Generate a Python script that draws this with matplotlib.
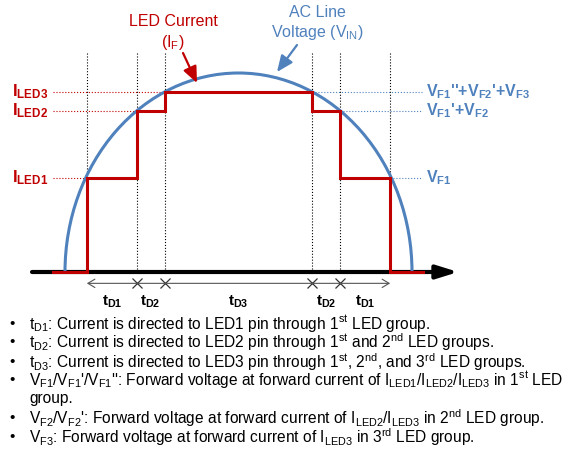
import numpy as np
import matplotlib
matplotlib.use("Agg")
import matplotlib.pyplot as plt
from matplotlib.patches import Arc

plt.rcParams['font.family'] = ['Liberation Sans', 'DejaVu Sans']
plt.rcParams['mathtext.fontset'] = 'custom'
plt.rcParams['mathtext.rm'] = 'Liberation Sans'
plt.rcParams['mathtext.bf'] = 'Liberation Sans:bold'

# data: time in ms over one half cycle, voltage normalised to the peak
t_start, t_end = 0.0, 10.0          # AC line zero crossings
v_peak = 1.0
step_times = [0.63, 2.07, 2.87, 7.13, 7.93, 9.37]
led_levels = [0.472, 0.81, 0.905]   # I_LED1, I_LED2, I_LED3
off_start, off_end = -0.35, 10.32   # red segments on the axis
axis_start, axis_end = -0.95, 11.33
dotted_top = 1.10
label_right = 10.29

left_labels = [r'I$\mathregular{_{LED1}}$', r'I$\mathregular{_{LED2}}$', r'I$\mathregular{_{LED3}}$']
right_labels = [r'V$\mathregular{_{F1}}$', r"V$\mathregular{_{F1}}$'+V$\mathregular{_{F2}}$",
                r"V$\mathregular{_{F1}}$''+V$\mathregular{_{F2}}$'+V$\mathregular{_{F3}}$"]
period_labels = ['D1', 'D2', 'D3', 'D2', 'D1']

notes = [
    r"t$\mathregular{_{D1}}$: Current is directed to LED1 pin through 1$\mathregular{^{st}}$ LED group.",
    r"t$\mathregular{_{D2}}$: Current is directed to LED2 pin through 1$\mathregular{^{st}}$ and 2$\mathregular{^{nd}}$ LED groups.",
    r"t$\mathregular{_{D3}}$: Current is directed to LED3 pin through 1$\mathregular{^{st}}$, 2$\mathregular{^{nd}}$, and 3$\mathregular{^{rd}}$ LED groups.",
    r"V$\mathregular{_{F1}}$/V$\mathregular{_{F1}}$'/V$\mathregular{_{F1}}$'': Forward voltage at forward current of I$\mathregular{_{LED1}}$/I$\mathregular{_{LED2}}$/I$\mathregular{_{LED3}}$ in 1$\mathregular{^{st}}$ LED",
    None,
    r"V$\mathregular{_{F2}}$/V$\mathregular{_{F2}}$': Forward voltage at forward current of I$\mathregular{_{LED2}}$/I$\mathregular{_{LED3}}$ in 2$\mathregular{^{nd}}$ LED group.",
    r"V$\mathregular{_{F3}}$: Forward voltage at forward current of I$\mathregular{_{LED3}}$ in 3$\mathregular{^{rd}}$ LED group.",
]

RED = '#C00000'
BLUE = '#4F81BD'

fig = plt.figure(figsize=(5.69, 4.51), dpi=100)
ax = fig.add_axes([0, 0, 1, 1])
# px -> data : t = (px - 65) / 34.7, v = (272 - py) / 199
ax.set_xlim(-65 / 34.7, (569 - 65) / 34.7)
ax.set_ylim((272 - 451) / 199, 272 / 199)
ax.axis('off')

# time axis with arrow
ax.annotate('', xy=(axis_end, 0), xytext=(axis_start, 0),
            arrowprops=dict(arrowstyle='-|>,head_length=0.8,head_width=0.25',
                            lw=3, color='black', mutation_scale=16,
                            shrinkA=0, shrinkB=0), zorder=2)

# AC line voltage
arc = Arc(((t_start + t_end) / 2, 0), t_end - t_start, 2 * v_peak,
          theta1=0, theta2=180, color=BLUE, lw=2.2, zorder=3)
ax.add_patch(arc)

# LED current steps
xs = [off_start] + step_times + [off_end]
ys = [0] + led_levels + led_levels[-2::-1] + [0, 0]
ax.step(xs, ys, where='post', color=RED, lw=2.2, zorder=4, solid_joinstyle='miter')

# vertical dotted lines
for t in step_times:
    ax.plot([t, t], [0, dotted_top], color='black', lw=0.8, ls=':', zorder=1)

# horizontal guides and labels
for i, lev in enumerate(led_levels):
    ax.plot([off_start, step_times[i]], [lev, lev], color=RED, lw=0.8, ls=':', zorder=1)
    ax.plot([step_times[-1 - i], label_right], [lev, lev], color=BLUE, lw=0.8, ls=':', zorder=1)
    ax.text(-1.52, lev, left_labels[i], color=RED, fontsize=12, fontweight='bold',
            ha='left', va='center')
    ax.text(label_right + 0.12, lev, right_labels[i], color=BLUE, fontsize=11.5,
            fontweight='bold', ha='left', va='center')

# duration bar below the axis
ybar = -0.057
ax.annotate('', xy=(step_times[-1], ybar), xytext=(step_times[0], ybar),
            arrowprops=dict(arrowstyle='<->,head_length=0.5,head_width=0.3',
                            lw=0.8, color='#555555', shrinkA=0, shrinkB=0))
ax.plot(step_times[1:-1], [ybar] * 4, ls='none', marker='x', ms=7, mew=0.9,
        color='#333333')

for j, lab in enumerate(period_labels):
    mid = (step_times[j] + step_times[j + 1]) / 2
    ax.text(mid, -0.15, r't$\mathregular{_{%s}}$' % lab, fontsize=11,
            fontweight='bold', ha='center', va='center')

# callouts
ax.text((173 - 65) / 34.7, (272 - 21) / 199, 'LED Current', color=RED,
        fontsize=11.5, ha='center', va='center')
ax.text((173 - 65) / 34.7, (272 - 42) / 199, r'(I$\mathregular{_F}$)', color=RED,
        fontsize=11.5, ha='center', va='center')
ax.annotate('', xy=((197 - 65) / 34.7, (272 - 83) / 199),
            xytext=((183 - 65) / 34.7, (272 - 53) / 199),
            arrowprops=dict(arrowstyle='-|>,head_length=0.7,head_width=0.3',
                            lw=1.6, color=RED, mutation_scale=14,
                            shrinkA=0, shrinkB=0))
ax.text((317 - 65) / 34.7, (272 - 13) / 199, 'AC Line', color=BLUE,
        fontsize=11.5, ha='center', va='center')
ax.text((317 - 65) / 34.7, (272 - 33) / 199, r'Voltage (V$\mathregular{_{IN}}$)',
        color=BLUE, fontsize=11.5, ha='center', va='center')
ax.annotate('', xy=((277 - 65) / 34.7, (272 - 72) / 199),
            xytext=((297 - 65) / 34.7, (272 - 45) / 199),
            arrowprops=dict(arrowstyle='-|>,head_length=0.7,head_width=0.3',
                            lw=1.6, color=BLUE, mutation_scale=14,
                            shrinkA=0, shrinkB=0))

# notes
line_y = [324, 342, 362, 380, 398, 418, 437]
for k, py in enumerate(line_y):
    if notes[k] is None:
        fig.text(29 / 569, 1 - py / 451, 'group.', fontsize=11.2, va='center')
        continue
    fig.text(12 / 569, 1 - py / 451, u'\u2022', fontsize=11, ha='center', va='center')
    fig.text(29 / 569, 1 - py / 451, notes[k], fontsize=11.2, va='center')

fig.savefig('out.png', dpi=100)
